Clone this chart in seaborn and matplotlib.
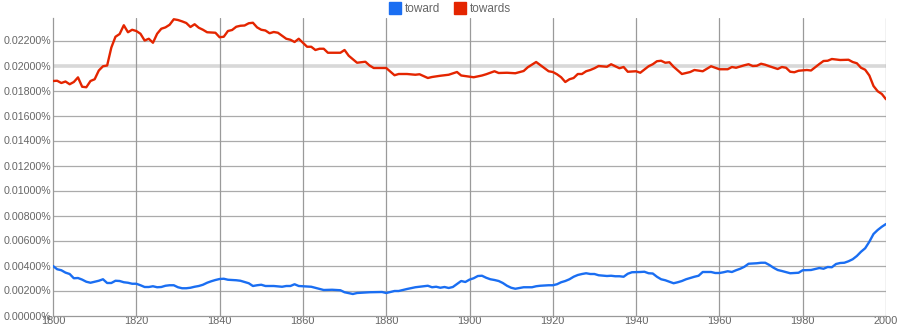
import matplotlib
matplotlib.use("Agg")
import matplotlib.pyplot as plt
from matplotlib.lines import Line2D
import numpy as np
import pandas as pd
import seaborn as sns

# ---------------- data (values in percent) ----------------
toward_years = [
    1800, 1801, 1802, 1803, 1804, 1805, 1806, 1807, 1808, 1809,
    1810, 1811, 1812, 1813, 1814, 1815, 1816, 1817, 1818, 1819,
    1820, 1821, 1822, 1823, 1824, 1825, 1826, 1827, 1828, 1829,
    1830, 1831, 1832, 1833, 1834, 1835, 1836, 1837, 1838, 1839,
    1840, 1841, 1842, 1843, 1844, 1845, 1846, 1847, 1848, 1849,
    1850, 1851, 1853, 1855, 1856, 1857, 1858, 1859,
    1862, 1865, 1867, 1869,
    1870, 1872, 1873, 1876, 1879,
    1880, 1882, 1883, 1885, 1887, 1889,
    1890, 1891, 1892, 1893, 1894, 1895, 1896, 1897, 1898, 1899,
    1900, 1901, 1902, 1903, 1904, 1905, 1906, 1907, 1908, 1909,
    1910, 1911, 1912, 1913, 1915, 1916, 1917, 1919,
    1920, 1921, 1922, 1923, 1924, 1925, 1926, 1927, 1928, 1929,
    1930, 1931, 1933, 1934, 1935, 1936, 1937, 1938, 1939,
    1941, 1942, 1943, 1944, 1945, 1946, 1947, 1948, 1949,
    1950, 1951, 1952, 1953, 1954, 1955, 1956, 1958, 1959,
    1960, 1961, 1962, 1963, 1964, 1965, 1966, 1967, 1969,
    1970, 1971, 1972, 1973, 1974, 1975, 1977, 1979,
    1980, 1982, 1983, 1984, 1985, 1986, 1987, 1988, 1989,
    1990, 1991, 1992, 1993, 1994, 1995, 1996, 1997, 1998, 1999,
    2000,
]
toward_values = [
    0.00396, 0.00370, 0.00362, 0.00343, 0.00332, 0.00298, 0.00300, 0.00287, 0.00270, 0.00262,
    0.00270, 0.00278, 0.00290, 0.00260, 0.00260, 0.00278, 0.00276, 0.00266, 0.00262, 0.00254,
    0.00254, 0.00242, 0.00228, 0.00228, 0.00234, 0.00226, 0.00228, 0.00238, 0.00242, 0.00242,
    0.00226, 0.00218, 0.00218, 0.00222, 0.00230, 0.00236, 0.00246, 0.00262, 0.00274, 0.00284,
    0.00292, 0.00294, 0.00286, 0.00284, 0.00282, 0.00278, 0.00268, 0.00258, 0.00236, 0.00242,
    0.00246, 0.00236, 0.00236, 0.00230, 0.00236, 0.00236, 0.00250, 0.00236,
    0.00230, 0.00204, 0.00206, 0.00202,
    0.00186, 0.00172, 0.00180, 0.00186, 0.00188,
    0.00180, 0.00196, 0.00196, 0.00212, 0.00226, 0.00234,
    0.00238, 0.00226, 0.00230, 0.00222, 0.00228, 0.00220, 0.00228, 0.00252, 0.00276, 0.00268,
    0.00287, 0.00298, 0.00316, 0.00318, 0.00302, 0.00290, 0.00284, 0.00276, 0.00260, 0.00238,
    0.00222, 0.00214, 0.00220, 0.00226, 0.00226, 0.00234, 0.00238, 0.00242,
    0.00242, 0.00250, 0.00266, 0.00276, 0.00290, 0.00310, 0.00324, 0.00332, 0.00338, 0.00332,
    0.00332, 0.00322, 0.00316, 0.00318, 0.00314, 0.00314, 0.00310, 0.00334, 0.00346,
    0.00348, 0.00350, 0.00338, 0.00336, 0.00310, 0.00290, 0.00282, 0.00270, 0.00258,
    0.00266, 0.00276, 0.00290, 0.00300, 0.00310, 0.00318, 0.00348, 0.00348, 0.00340,
    0.00340, 0.00346, 0.00354, 0.00348, 0.00362, 0.00374, 0.00390, 0.00414, 0.00418,
    0.00422, 0.00422, 0.00404, 0.00382, 0.00364, 0.00356, 0.00338, 0.00342,
    0.00362, 0.00364, 0.00372, 0.00380, 0.00374, 0.00388, 0.00386, 0.00412, 0.00420,
    0.00422, 0.00434, 0.00450, 0.00476, 0.00510, 0.00538, 0.00590, 0.00652, 0.00684, 0.00710,
    0.00732,
]

towards_years = [
    1800, 1801, 1802, 1803, 1804, 1805, 1806, 1807, 1808, 1809,
    1810, 1811, 1812, 1813, 1814, 1815, 1816, 1817, 1818, 1819,
    1820, 1821, 1822, 1823, 1824, 1825, 1826, 1827, 1828, 1829,
    1830, 1831, 1832, 1833, 1834, 1835, 1836, 1837, 1839,
    1840, 1841, 1842, 1843, 1844, 1845, 1846, 1847, 1848, 1849,
    1850, 1851, 1852, 1853, 1854, 1855, 1856, 1857, 1858, 1859,
    1861, 1862, 1863, 1864, 1865, 1866, 1868, 1869,
    1870, 1871, 1873, 1875, 1876, 1877,
    1880, 1882, 1883, 1885, 1887, 1888,
    1890, 1891, 1893, 1895, 1897, 1898,
    1901, 1903, 1904, 1906, 1907, 1909,
    1911, 1913, 1914, 1916, 1918, 1919,
    1920, 1921, 1922, 1923, 1924, 1925, 1926, 1927, 1928, 1929,
    1930, 1931, 1933, 1934, 1936, 1937, 1938,
    1940, 1941, 1943, 1944, 1945, 1946, 1947, 1948, 1949,
    1951, 1953, 1954, 1956, 1958,
    1960, 1962, 1963, 1964, 1966, 1967, 1968, 1969,
    1970, 1971, 1972, 1974, 1975, 1976, 1977, 1978, 1979,
    1981, 1982, 1983, 1984, 1985, 1986, 1987, 1989,
    1991, 1992, 1993, 1994, 1995, 1996, 1997, 1998, 1999,
    2000,
]
towards_values = [
    0.01876, 0.01878, 0.01860, 0.01872, 0.01850, 0.01868, 0.01905, 0.01830, 0.01826, 0.01876,
    0.01890, 0.01960, 0.01994, 0.02000, 0.02143, 0.02230, 0.02252, 0.02322, 0.02266, 0.02286,
    0.02276, 0.02254, 0.02200, 0.02214, 0.02182, 0.02254, 0.02294, 0.02305, 0.02326, 0.02370,
    0.02364, 0.02353, 0.02340, 0.02308, 0.02330, 0.02302, 0.02286, 0.02266, 0.02262,
    0.02226, 0.02230, 0.02276, 0.02284, 0.02310, 0.02318, 0.02320, 0.02338, 0.02342, 0.02305,
    0.02286, 0.02280, 0.02258, 0.02268, 0.02262, 0.02238, 0.02214, 0.02206, 0.02188, 0.02214,
    0.02150, 0.02150, 0.02124, 0.02134, 0.02134, 0.02102, 0.02102, 0.02102,
    0.02124, 0.02078, 0.02022, 0.02030, 0.02000, 0.01980,
    0.01980, 0.01922, 0.01932, 0.01932, 0.01926, 0.01930,
    0.01900, 0.01908, 0.01918, 0.01926, 0.01948, 0.01920,
    0.01906, 0.01920, 0.01930, 0.01954, 0.01940, 0.01942,
    0.01938, 0.01956, 0.01986, 0.02028, 0.01978, 0.01954,
    0.01948, 0.01930, 0.01906, 0.01868, 0.01890, 0.01900, 0.01932, 0.01932, 0.01954, 0.01964,
    0.01978, 0.01996, 0.01990, 0.02010, 0.01978, 0.01988, 0.01950,
    0.01954, 0.01942, 0.01994, 0.02010, 0.02034, 0.02038, 0.02022, 0.02026, 0.01990,
    0.01932, 0.01948, 0.01964, 0.01954, 0.01994,
    0.01970, 0.01970, 0.01988, 0.01982, 0.02002, 0.02010, 0.01996, 0.01998,
    0.02014, 0.02006, 0.01994, 0.01972, 0.01988, 0.01982, 0.01950, 0.01946, 0.01958,
    0.01964, 0.01960, 0.01986, 0.02012, 0.02036, 0.02038, 0.02052, 0.02044,
    0.02046, 0.02028, 0.02018, 0.01982, 0.01966, 0.01920, 0.01836, 0.01794, 0.01772,
    0.01730,
]

series_names = ["toward", "towards"]
series_colors = ["#1a6ef2", "#e42500"]
y_ticks = [0.0, 0.002, 0.004, 0.006, 0.008, 0.010, 0.012, 0.014, 0.016, 0.018, 0.020, 0.022]
x_ticks = [1800, 1820, 1840, 1860, 1880, 1900, 1920, 1940, 1960, 1980, 2000]

# ---------------- build table ----------------
df = pd.concat([
    pd.DataFrame({"year": toward_years, "value": toward_values, "word": series_names[0]}),
    pd.DataFrame({"year": towards_years, "value": towards_values, "word": series_names[1]}),
], ignore_index=True)

sns.set_style("white")
plt.rcParams["font.family"] = ["Liberation Sans", "DejaVu Sans"]

fig = plt.figure(figsize=(9, 3.3), dpi=100)
ax = fig.add_axes([53 / 900, 14.5 / 330, 833 / 900, (315.5 - 18) / 330])

sns.lineplot(data=df, x="year", y="value", hue="word", hue_order=series_names,
             palette=dict(zip(series_names, series_colors)), linewidth=1.7,
             legend=False, ax=ax, zorder=3)

ax.set_xlim(1800, 2000)
ax.set_ylim(0, 0.0238)
ax.set_xlabel("")
ax.set_ylabel("")

# grid lines
for yt in y_ticks[1:]:
    if abs(yt - 0.020) < 1e-9:
        ax.axhline(yt, color="#d8d8d8", lw=2.6, zorder=1)
    else:
        ax.axhline(yt, color="#ababab", lw=0.9, zorder=1)
for xt in x_ticks[1:]:
    ax.axvline(xt, color="#9a9a9a", lw=0.9, zorder=1)

ax.set_yticks(y_ticks)
ax.set_yticklabels([f"{v:.5f}%" for v in y_ticks])
ax.set_xticks(x_ticks)
ax.set_xticklabels([str(x) for x in x_ticks])
ax.tick_params(axis="y", length=0, pad=1.5, labelsize=7.7, labelcolor="#666666")
ax.tick_params(axis="x", length=0, pad=0.5, labelsize=7.9, labelcolor="#666666")

for side in ["top", "right"]:
    ax.spines[side].set_visible(False)
for side in ["left", "bottom"]:
    ax.spines[side].set_color("#999999")
    ax.spines[side].set_linewidth(0.9)

handles = [Line2D([], [], linestyle="none", marker="s", markersize=9,
                  markerfacecolor=c, markeredgecolor=c) for c in series_colors]
fig.legend(handles, series_names, loc="center", bbox_to_anchor=(0.5, 1 - 9 / 330),
           ncol=2, frameon=False, fontsize=8.5, labelcolor="#666666",
           handletextpad=0.3, columnspacing=1.2, handlelength=1.0, borderaxespad=0)

fig.savefig("out.png", dpi=100)
